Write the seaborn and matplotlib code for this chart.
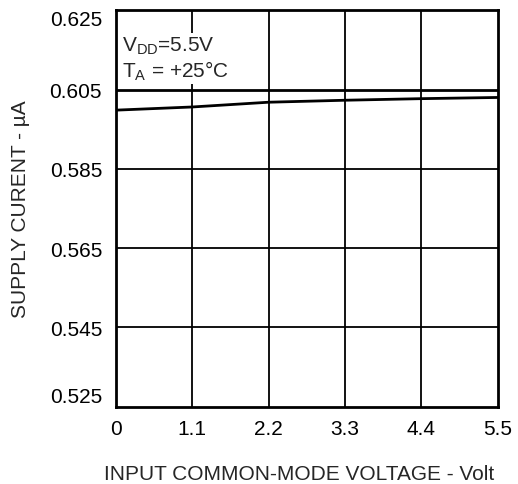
import matplotlib
matplotlib.use("Agg")
import matplotlib.pyplot as plt
import seaborn as sns
import pandas as pd

# Data
voltage = [0.0, 1.1, 2.2, 3.3, 4.4, 5.5]
supply_current = [0.5998, 0.6006, 0.6018, 0.6023, 0.6027, 0.6030]
x_ticks = [0, 1.1, 2.2, 3.3, 4.4, 5.5]
x_tick_labels = ["0", "1.1", "2.2", "3.3", "4.4", "5.5"]
y_ticks = [0.525, 0.545, 0.565, 0.585, 0.605, 0.625]
y_tick_labels = ["0.525", "0.545", "0.565", "0.585", "0.605", "0.625"]

sns.set_style("white")
plt.rcParams['font.family'] = ['Liberation Sans', 'DejaVu Sans']
plt.rcParams['mathtext.fontset'] = 'custom'
plt.rcParams['mathtext.rm'] = 'Liberation Sans'
plt.rcParams['mathtext.it'] = 'Liberation Sans'

FS = 15

df = pd.DataFrame({"v": voltage, "i": supply_current})

fig = plt.figure(figsize=(5.18, 4.85), dpi=100)
ax = fig.add_axes([116/518, 1-407.5/485, (497.7-116)/518, (407.5-11.3)/485])

sns.lineplot(data=df, x="v", y="i", ax=ax, color="black", linewidth=2.0, zorder=3)

ax.set_xlim(0, 5.5)
ax.set_ylim(0.525, 0.625)
ax.set_xticks(x_ticks)
ax.set_xticklabels(x_tick_labels)
ax.set_yticks(y_ticks)
ax.set_yticklabels(y_tick_labels)
ax.tick_params(axis='both', length=0, labelsize=FS, colors='black')
ax.tick_params(axis='x', pad=9)
ax.tick_params(axis='y', pad=10)

ylabels = ax.get_yticklabels()
ylabels[0].set_va('bottom')
ylabels[-1].set_va('top')

for xv in x_ticks[1:-1]:
    ax.axvline(xv, color='black', linewidth=1.3, zorder=1)
for yv in y_ticks[1:-1]:
    lw = 2.0 if yv == 0.605 else 1.3
    ax.axhline(yv, color='black', linewidth=lw, zorder=1)

for s in ax.spines.values():
    s.set_color('black')
    s.set_linewidth(2.0)
    s.set_visible(True)

ax.set_xlabel("INPUT COMMON-MODE VOLTAGE - Volt", fontsize=FS)
ax.xaxis.set_label_coords(0.479, -0.145)
ax.set_ylabel("SUPPLY CURENT - µA", fontsize=FS, labelpad=14)

ax.text(0.085, 0.6128, "V$_{\\mathregular{DD}}$=5.5V\nT$_{\\mathregular{A}}$ = +25°C",
        fontsize=FS, va='center', ha='left', linespacing=1.15, zorder=2,
        bbox=dict(facecolor='white', edgecolor='none', pad=1.5))

fig.savefig("out.png", dpi=100)
